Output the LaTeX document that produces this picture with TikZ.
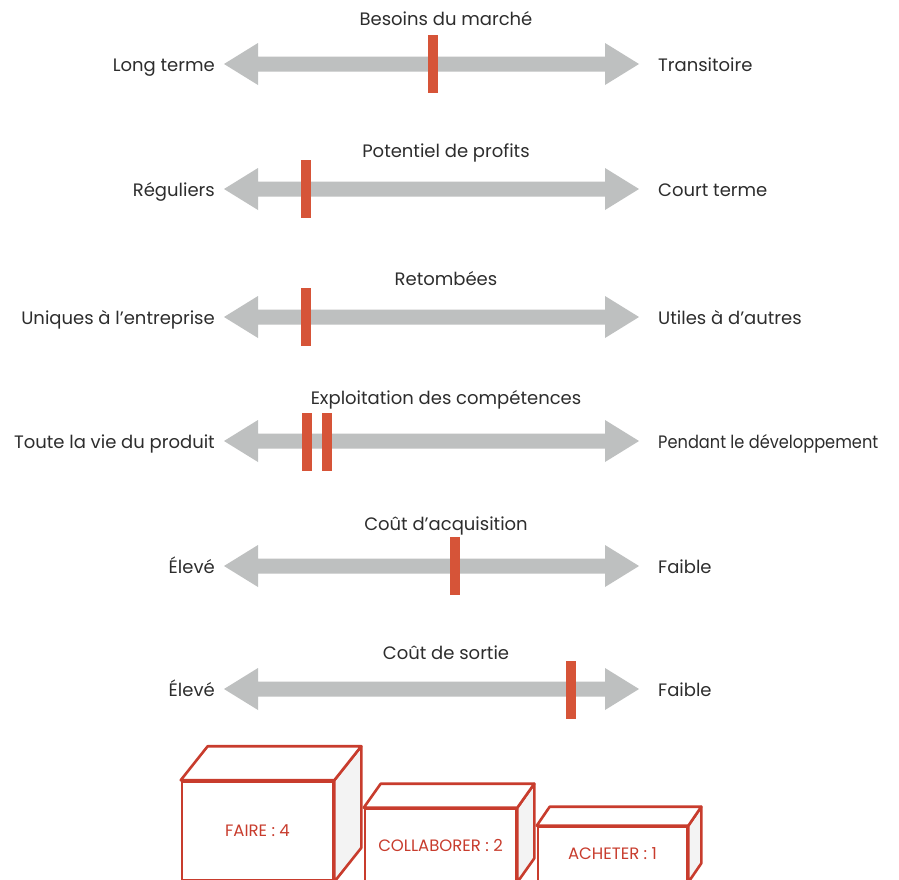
\documentclass[tikz,border=0pt]{standalone}
\usepackage{fontspec}
\setmainfont{Poppins}
\newfontfamily\narrowface[FakeStretch=0.9]{Poppins}
\usetikzlibrary{calc}
\definecolor{bargray}{RGB}{190,192,192}
\definecolor{tick}{RGB}{214,84,56}
\definecolor{boxred}{RGB}{200,60,45}
\definecolor{ink}{RGB}{45,45,45}
\definecolor{sideface}{RGB}{243,243,243}
\tikzset{
  label/.style={text=ink, font=\fontsize{18}{20}\selectfont, inner sep=0pt},
  leftlab/.style={label, anchor=base east},
  rightlab/.style={label, anchor=base west},
  titlelab/.style={label, anchor=base},
  longlab/.style={font=\narrowface\fontsize{18}{20}\selectfont},
  marker/.style={fill=tick, draw=none, minimum width=10pt, minimum height=58pt, inner sep=0pt},
  boxfront/.style={draw=boxred, fill=white, line width=2.6pt, text=boxred,
    font=\fontsize{16.5}{18}\selectfont, inner sep=0pt},
  boxside/.style={draw=boxred, fill=sideface, line width=2.6pt, line join=round},
  boxtop/.style={draw=boxred, fill=white, line width=2.6pt, line join=round},
}
% double-headed bar between two named end points
\newcommand\gaugebar[2]{%
  \fill[bargray] (#1) -- ++(34,-21) -- ++(0,13.5) -- ($(#2)+(-34,-7.5)$)
    -- ++(0,-13.5) -- (#2) -- ++(-34,21) -- ++(0,-13.5) -- ($(#1)+(34,7.5)$)
    -- ++(0,13.5) -- cycle;}
% box drawn in perspective behind a named front face
\newcommand\crate[3]{%
  \draw[boxside] (#1.north east) -- ++(#2,-#3) -- ($(#1.south east)+(#2,-#3)$) -- (#1.south east) -- cycle;
  \draw[boxtop] (#1.north west) -- ++(#2,-#3) -- ++($(#1.north east)-(#1.north west)$) -- (#1.north east) -- cycle;}
\begin{document}
\begin{tikzpicture}[x=1pt, y=-1pt]
\useasboundingbox (0,0) rectangle (899,879);
\fill[white] (0,0) rectangle (899,879);

\foreach \n/\y/\ty/\title/\lt/\rt/\rs in {
  a/64/25/Besoins du marché/Long terme/Transitoire/label,
  b/189/157/Potentiel de profits/Réguliers/Court terme/label,
  c/317/285/Retombées/Uniques à l’entreprise/Utiles à d’autres/label,
  d/441/404/Exploitation des compétences/Toute la vie du produit/Pendant le développement/longlab,
  e/566/530/Coût d’acquisition/Élevé/Faible/label,
  f/689/659/Coût de sortie/Élevé/Faible/label}{
  \coordinate (\n L) at (224,\y);
  \coordinate (\n R) at (639,\y);
  \gaugebar{\n L}{\n R}
  \node[leftlab] (\n left) at (215,\y+7) {\lt};
  \node[rightlab, \rs] (\n right) at (658,\y+7) {\rt};
  \node[titlelab] (\n title) at (446,\ty) {\title};
}

\node[marker] (ma) at (433,64) {};
\node[marker] (mb) at (306,189) {};
\node[marker] (mc) at (306,317) {};
\node[marker] (md1) at (307,442) {};
\node[marker] (md2) at (327,442) {};
\node[marker] (me) at (455,566) {};
\node[marker] (mf) at (571,690) {};

\node[boxfront, minimum width=151pt, minimum height=99pt] (faire) at (257.5,831) {FAIRE : 4};
\crate{faire}{27}{34}
\node[boxfront, minimum width=151pt, minimum height=72pt] (collab) at (440.5,845) {COLLABORER : 2};
\crate{collab}{17}{24}
\node[boxfront, minimum width=149pt, minimum height=54pt] (acheter) at (612.5,854) {ACHETER : 1};
\crate{acheter}{13}{19}
\end{tikzpicture}
\end{document}
